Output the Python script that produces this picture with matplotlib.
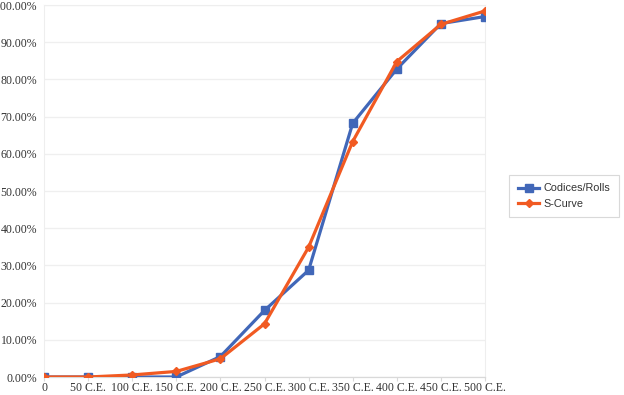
import matplotlib
matplotlib.use("Agg")
import matplotlib.pyplot as plt
from matplotlib.ticker import FuncFormatter

years = [0, 50, 100, 150, 200, 250, 300, 350, 400, 450, 500]
year_labels = ["0", "50 C.E.", "100 C.E.", "150 C.E.", "200 C.E.", "250 C.E.",
               "300 C.E.", "350 C.E.", "400 C.E.", "450 C.E.", "500 C.E."]
codices = [0.0, 0.0, 0.0, 0.0, 5.5, 17.9, 28.7, 68.2, 82.8, 95.0, 96.9]
s_curve = [0.0, 0.0, 0.55, 1.5, 4.9, 14.3, 34.9, 63.3, 84.8, 94.8, 98.4]

blue = "#4167B8"
orange = "#F15A22"

fig = plt.figure(figsize=(6.24, 3.95), dpi=100)
ax = fig.add_axes([44 / 624, 18 / 395, 441 / 624, 372 / 395])

ax.plot(years, codices, color=blue, lw=2.3, marker="s", ms=5.5, label="Codices/Rolls", zorder=3)
ax.plot(years, s_curve, color=orange, lw=2.3, marker="D", ms=3.8, label="S-Curve", zorder=4)

ax.set_xlim(0, 500)
ax.set_ylim(0, 100)
ax.set_xticks(years)
ax.set_xticklabels(year_labels)
ax.set_yticks(range(0, 101, 10))
ax.yaxis.set_major_formatter(FuncFormatter(lambda v, p: "%.2f%%" % v))

ax.grid(axis="y", color="#efefef", lw=0.9)
ax.set_axisbelow(True)
for side in ["top", "right", "left"]:
    ax.spines[side].set_color("#eeeeee")
    ax.spines[side].set_linewidth(0.8)
ax.spines["bottom"].set_color("#d9d9d9")
ax.spines["bottom"].set_linewidth(0.9)

ax.tick_params(axis="x", length=3, color="#d9d9d9", pad=0.5)
ax.tick_params(axis="y", length=0, pad=5)
for lab in ax.get_xticklabels() + ax.get_yticklabels():
    lab.set_fontfamily("Liberation Serif")
    lab.set_fontsize(8.5)
    lab.set_color("#333333")

leg = fig.legend(loc="center left", bbox_to_anchor=(509 / 624, 1 - 196 / 395),
                 prop={"family": "Liberation Sans", "size": 7.8},
                 frameon=True, fancybox=False, handlelength=2.0, borderpad=0.8,
                 labelspacing=0.5, handletextpad=0.4, borderaxespad=0)
leg.get_frame().set_edgecolor("#d0d0d0")
leg.get_frame().set_linewidth(0.8)
for t in leg.get_texts():
    t.set_color("#333333")

fig.savefig("out.png", dpi=100)
